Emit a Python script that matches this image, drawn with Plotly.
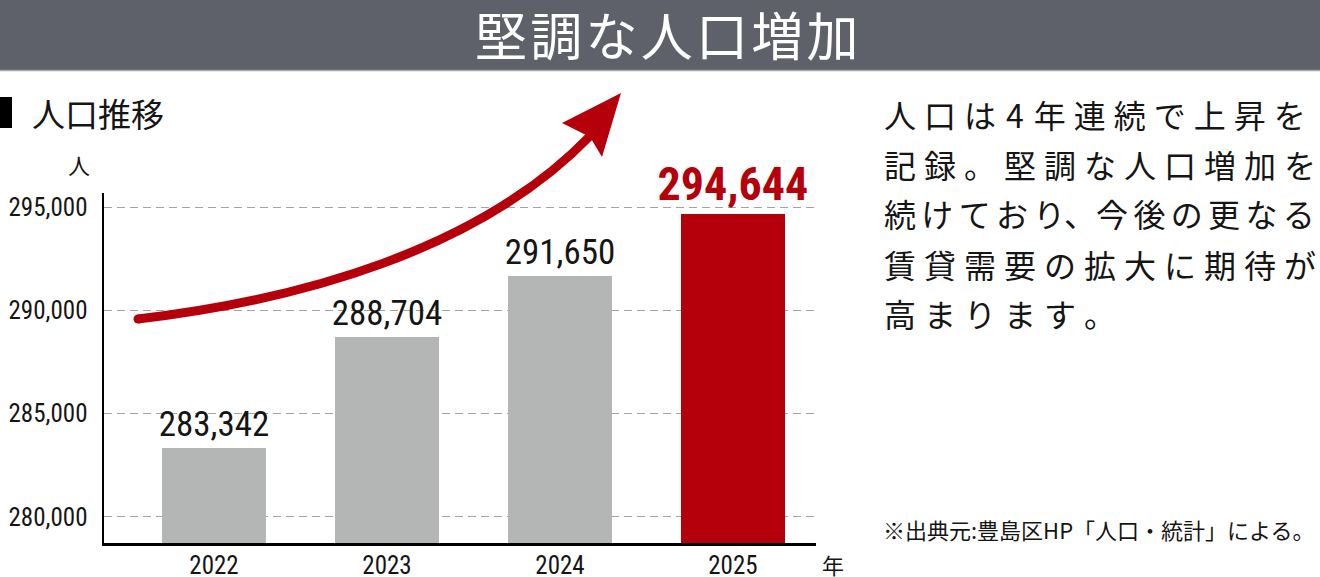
import plotly.graph_objects as go

W, H = 1320, 577

# ---------------- data ----------------
years = ["2022", "2023", "2024", "2025"]
population = [283342, 288704, 291650, 294644]
y_ticks = [280000, 285000, 290000, 295000]

title_text = "堅調な人口増加"
section_label = "人口推移"
unit_y = "人"
unit_x = "年"
paragraph_lines = [
    "人口は4年連続で上昇を",
    "記録。堅調な人口増加を",
    "続けており、今後の更なる",
    "賃貸需要の拡大に期待が",
    "高まります。",
]
source_note = "※出典元:豊島区HP「人口・統計」による。"

# ---------------- styles ----------------
GRAY = "#b4b5b5"
RED = "#b5000b"
BANNER = "#5e6169"
INK = "#151515"
NUM_FONT = "Roboto Condensed, Liberation Sans Narrow, Roboto, sans-serif"
JP_FONT = "Noto Sans CJK JP, Noto Sans, sans-serif"


def px(x):
    return x / W


def py(y):
    return 1 - y / H


def spaced(s, sp):
    out = ""
    for i, ch in enumerate(s):
        out += ch
        if i < len(s) - 1 and ch != "、" and s[i + 1] != "、":
            out += sp
            if ch.isdigit() or s[i + 1].isdigit():
                out += "\u200a"
    return out


bar_colors = [GRAY] * (len(years) - 1) + [RED]
label_texts = [f"{v:,}" for v in population]
label_texts[-1] = f"<b>{label_texts[-1]}</b>"
label_sizes = [35] * (len(years) - 1) + [46]
label_colors = [INK] * (len(years) - 1) + [RED]

fig = go.Figure()
fig.add_trace(
    go.Bar(
        x=years,
        y=population,
        marker=dict(color=bar_colors, line=dict(width=0)),
        width=0.601,
        text=label_texts,
        textposition="outside",
        textfont=dict(family=NUM_FONT, size=label_sizes, color=label_colors),
        cliponaxis=False,
        constraintext="none",
        hoverinfo="skip",
    )
)

shapes = []
# banner
shapes.append(dict(type="rect", xref="paper", yref="paper", x0=0, x1=1, y0=py(70), y1=1,
                   fillcolor=BANNER, line=dict(width=0), layer="below"))
shapes.append(dict(type="line", xref="paper", yref="paper", x0=0, x1=1, y0=py(70.5), y1=py(70.5),
                   line=dict(color="#a6a8ad", width=1.5)))
# section marker
shapes.append(dict(type="rect", xref="paper", yref="paper", x0=0, x1=px(12), y0=py(128), y1=py(97),
                   fillcolor="#000000", line=dict(width=0)))

# arrow shaft (cubic bezier in paper coords)
p0, c1, c2, p3 = (138, 319), (300, 300), (480, 250), (590, 136)
path = (f"M {px(p0[0])},{py(p0[1])} C {px(c1[0])},{py(c1[1])} "
        f"{px(c2[0])},{py(c2[1])} {px(p3[0])},{py(p3[1])}")
shapes.append(dict(type="path", xref="paper", yref="paper", path=path,
                   line=dict(color=RED, width=9)))
shapes.append(dict(type="circle", xref="paper", yref="paper",
                   x0=px(p0[0] - 4.5), x1=px(p0[0] + 4.5), y0=py(p0[1] + 4.5), y1=py(p0[1] - 4.5),
                   fillcolor=RED, line=dict(width=0)))
tip, lb, notch, rb = (621, 93), (562, 123), (590, 137), (602, 157)
head = (f"M {px(tip[0])},{py(tip[1])} L {px(lb[0])},{py(lb[1])} L {px(notch[0])},{py(notch[1])} "
        f"L {px(rb[0])},{py(rb[1])} Z")
shapes.append(dict(type="path", xref="paper", yref="paper", path=head,
                   fillcolor=RED, line=dict(width=0)))

annotations = []
annotations.append(dict(text="\u200a".join(title_text), x=px(667), y=py(34), xref="paper", yref="paper",
                        xanchor="center", yanchor="middle", showarrow=False,
                        font=dict(family=JP_FONT, size=52, color="#ffffff")))
annotations.append(dict(text=section_label, x=px(30), y=py(113), xref="paper", yref="paper",
                        xanchor="left", yanchor="middle", showarrow=False,
                        font=dict(family=JP_FONT, size=33, color=INK)))
annotations.append(dict(text=unit_y, x=px(79), y=py(164), xref="paper", yref="paper",
                        xanchor="center", yanchor="middle", showarrow=False,
                        font=dict(family=JP_FONT, size=22, color=INK)))
annotations.append(dict(text=unit_x, x=px(833), y=py(564), xref="paper", yref="paper",
                        xanchor="center", yanchor="middle", showarrow=False,
                        font=dict(family=JP_FONT, size=22, color=INK)))
line_centers = [114, 164, 213, 264, 313]
for txt, yc in zip(paragraph_lines, line_centers):
    sp = "\u2006" if len(txt) > 11 else "\u2005"
    annotations.append(dict(text=spaced(txt, sp), x=px(882), y=py(yc), xref="paper", yref="paper",
                            xanchor="left", yanchor="middle", showarrow=False,
                            font=dict(family=JP_FONT, size=32, color=INK)))
annotations.append(dict(text=source_note, x=px(881), y=py(529), xref="paper", yref="paper",
                        xanchor="left", yanchor="middle", showarrow=False,
                        font=dict(family=JP_FONT, size=22, color=INK)))

fig.update_layout(
    width=W,
    height=H,
    autosize=False,
    margin=dict(l=0, r=0, t=0, b=0, pad=0, autoexpand=False),
    paper_bgcolor="#ffffff",
    plot_bgcolor="#ffffff",
    showlegend=False,
    shapes=shapes,
    annotations=annotations,
    bargap=0,
    xaxis=dict(
        domain=[px(104), px(816)],
        type="category",
        range=[-0.636, 3.48],
        automargin=False,
        showline=True,
        linecolor="#000000",
        linewidth=2.5,
        ticks="",
        showgrid=False,
        zeroline=False,
        tickfont=dict(family=NUM_FONT, size=25, color=INK),
        ticklabelstandoff=-2,
    ),
    yaxis=dict(
        domain=[py(543), py(193)],
        range=[278741, 295678],
        automargin=False,
        tickvals=y_ticks,
        tickformat=",",
        showline=True,
        linecolor="#000000",
        linewidth=2.5,
        ticks="",
        showgrid=True,
        gridcolor="#a3a3a3",
        gridwidth=1,
        griddash="8px,5px",
        zeroline=False,
        tickfont=dict(family=NUM_FONT, size=25, color=INK),
        ticklabelstandoff=9,
    ),
)

fig.write_html(
    "out.html",
    config={"displayModeBar": False, "staticPlot": True},
    post_script="document.body.style.margin='0';document.body.style.overflow='hidden';",
)
